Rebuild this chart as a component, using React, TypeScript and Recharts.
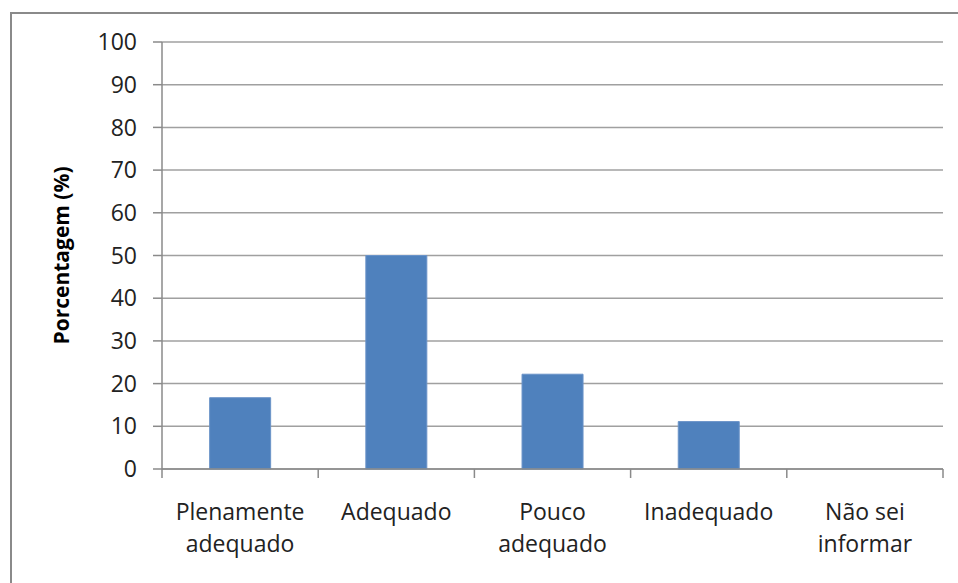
import React from 'react';
import { BarChart, Bar, XAxis, YAxis, CartesianGrid } from 'recharts';

const categories = ['Plenamente adequado', 'Adequado', 'Pouco adequado', 'Inadequado', 'Não sei informar'];
const values = [16.7, 50, 22.2, 11.1, 0];
const yTicks = [0, 10, 20, 30, 40, 50, 60, 70, 80, 90, 100];

const labelLines: Record<string, string[]> = {
  'Plenamente adequado': ['Plenamente', 'adequado'],
  'Adequado': ['Adequado'],
  'Pouco adequado': ['Pouco', 'adequado'],
  'Inadequado': ['Inadequado'],
  'Não sei informar': ['Não sei', 'informar'],
};

const data = categories.map((name, i) => ({ name, value: values[i] }));

const FONT = '"Open Sans", sans-serif';
const AXIS = '#8a8a8a';

// category label plus tick marks on the category boundaries (Excel style)
const CategoryTick = (props: any) => {
  const { x, y, payload, index, width, visibleTicksCount } = props;
  const lines = labelLines[payload.value] || [payload.value];
  const half = Number(width) / (visibleTicksCount || categories.length) / 2;
  const top = y - 8;
  return (
    <g>
      <line x1={x - half} x2={x - half} y1={top} y2={top + 9} stroke={AXIS} strokeWidth={1.5} />
      {index === visibleTicksCount - 1 && (
        <line x1={x + half} x2={x + half} y1={top} y2={top + 9} stroke={AXIS} strokeWidth={1.5} />
      )}
      <text x={x} y={y + 43} textAnchor="middle" fill="#222" fontSize={23} fontFamily={FONT}>
        {lines.map((l, i) => (
          <tspan key={i} x={x} dy={i === 0 ? 0 : 32}>
            {l}
          </tspan>
        ))}
      </text>
    </g>
  );
};

export default function App() {
  return (
    <div style={{ position: 'absolute', left: 0, top: 0, width: 958, height: 583, background: '#fff', overflow: 'hidden' }}>
      <div
        style={{
          position: 'absolute',
          left: 10,
          top: 12,
          width: 960,
          height: 600,
          borderLeft: '2px solid #8a8a8a',
          borderTop: '2px solid #8a8a8a',
        }}
      />
      <BarChart
        width={958}
        height={583}
        data={data}
        margin={{ top: 42, right: 15, bottom: 0, left: 0 }}
        barCategoryGap="30.5%"
        style={{ position: 'absolute', left: 0, top: 0 }}
      >
        <CartesianGrid vertical={false} stroke="#a0a0a0" strokeWidth={1.5} />
        <XAxis
          dataKey="name"
          height={114}
          tick={<CategoryTick />}
          tickLine={false}
          axisLine={{ stroke: AXIS, strokeWidth: 1.5 }}
          interval={0}
        />
        <YAxis
          width={162}
          domain={[0, 100]}
          ticks={yTicks}
          interval={0}
          tickSize={9}
          tickMargin={16}
          axisLine={{ stroke: AXIS, strokeWidth: 1.5 }}
          tickLine={{ stroke: AXIS, strokeWidth: 1.5 }}
          tick={{ fill: '#222', fontSize: 23, fontFamily: FONT }}
          label={{
            value: 'Porcentagem (%)',
            angle: -90,
            position: 'insideLeft',
            dx: 57,
            style: { textAnchor: 'middle', fontWeight: 'bold', fontSize: 21, fill: '#000', fontFamily: FONT },
          }}
        />
        <Bar dataKey="value" fill="#4f81bd" stroke="#6a93c8" strokeWidth={1} isAnimationActive={false} />
      </BarChart>
    </div>
  );
}
